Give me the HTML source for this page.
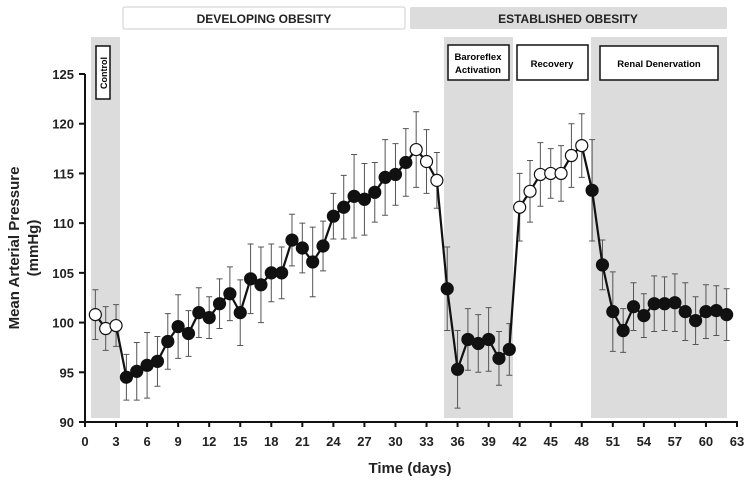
<!DOCTYPE html>
<html><head><meta charset="utf-8"><style>
body{margin:0;background:#fff;}
svg{display:block;font-family:"Liberation Sans",Arial,sans-serif;}
</style></head><body>
<svg id="chart" width="745" height="483"></svg>
<script>
const days=[1,2,3,4,5,6,7,8,9,10,11,12,13,14,15,16,17,18,19,20,21,22,23,24,25,26,27,28,29,30,31,32,33,34,35,36,37,38,39,40,41,42,43,44,45,46,47,48,49,50,51,52,53,54,55,56,57,58,59,60,61,62];
const meanMAP=[100.8,99.4,99.7,94.5,95.1,95.7,96.1,98.1,99.6,98.9,101,100.5,101.9,102.9,101,104.4,103.8,105,105,108.3,107.5,106.1,107.7,110.7,111.6,112.7,112.4,113.1,114.6,114.9,116.1,117.4,116.2,114.3,103.4,95.3,98.3,97.9,98.3,96.4,97.3,111.6,113.2,114.9,115,115,116.8,117.8,113.3,105.8,101.1,99.2,101.6,100.7,101.9,101.9,102,101.1,100.2,101.1,101.2,100.8];
const errMAP=[2.5,2.2,2.1,2.3,2.9,3.3,2.5,2.8,3.2,2.3,2.5,2.1,2.5,2.7,3.3,3.5,3.8,2.9,2.6,2.6,2.5,3.5,2.5,2.3,3.2,4.2,3.6,3,3.8,3.1,3.4,3.8,3.2,2.8,4.2,3.9,3.1,2.9,3.2,2.7,2.6,3.4,3.1,3.2,2.5,2.8,3.2,3.2,5.1,2.5,4,2.2,2.4,2.2,2.8,2.7,2.9,2.9,2.4,2.7,2.5,2.6];
const openDays=[1,2,3,32,33,34,42,43,44,45,46,47,48];
const xTicks=[0,3,6,9,12,15,18,21,24,27,30,33,36,39,42,45,48,51,54,57,60,63];
const yTicks=[90,95,100,105,110,115,120,125];
const NS="http://www.w3.org/2000/svg";
const svg=document.getElementById('chart');
const X=d=>85+d*(652/63);
const Y=v=>422-(v-90)*(348/35);
function el(t,a,p){const e=document.createElementNS(NS,t);for(const k in a)e.setAttribute(k,a[k]);(p||svg).appendChild(e);return e;}
function txt(x,y,s,a){const e=el('text',Object.assign({x:x,y:y},a));e.textContent=s;return e;}
// shaded regions
let r;
r=el('rect',{x:91,y:37,width:29,height:381,fill:'#dcdcdc'});
r=el('rect',{x:444,y:37,width:69,height:381,fill:'#dcdcdc'});
r=el('rect',{x:591,y:37,width:136,height:381,fill:'#dcdcdc'});
// banners
r=el('rect',{x:123,y:7,width:282,height:22,fill:'#fff',stroke:'#ddd','stroke-width':1.5,rx:2});
r=txt(264,23,'DEVELOPING OBESITY',{'text-anchor':'middle','font-size':12,'font-weight':'bold',fill:'#222'});
r=el('rect',{x:410,y:7,width:317,height:22,fill:'#dcdcdc',rx:2});
r=txt(568,23,'ESTABLISHED OBESITY',{'text-anchor':'middle','font-size':12,'font-weight':'bold',fill:'#222'});
// phase label boxes
r=el('rect',{x:96,y:46,width:14,height:53,fill:'#fff',stroke:'#111','stroke-width':1.5});
r=txt(0,0,'Control',{transform:'translate(107,73) rotate(-90)','text-anchor':'middle','font-size':9,'font-weight':'bold'});
r=el('rect',{x:448,y:45,width:61,height:35,fill:'#fff',stroke:'#111','stroke-width':1.5});
r=txt(478,60,'Baroreflex',{'text-anchor':'middle','font-size':9.5,'font-weight':'bold'});
r=txt(478,73,'Activation',{'text-anchor':'middle','font-size':9.5,'font-weight':'bold'});
r=el('rect',{x:517,y:45,width:71,height:35,fill:'#fff',stroke:'#111','stroke-width':1.5});
r=txt(552,67,'Recovery',{'text-anchor':'middle','font-size':9.5,'font-weight':'bold'});
r=el('rect',{x:600,y:46,width:118,height:34,fill:'#fff',stroke:'#111','stroke-width':1.5});
r=txt(659,67,'Renal Denervation',{'text-anchor':'middle','font-size':9.5,'font-weight':'bold'});
// axes
r=el('line',{x1:85,y1:74,x2:85,y2:423,stroke:'#111','stroke-width':2});
r=el('line',{x1:84,y1:422,x2:738,y2:422,stroke:'#111','stroke-width':2});
yTicks.forEach(v=>{
  const t=el('line',{x1:79,y1:Y(v),x2:85,y2:Y(v),stroke:'#111','stroke-width':2});
  
  const l=txt(74,Y(v)+5,String(v),{'text-anchor':'end','font-size':13,'font-weight':'bold',fill:'#222'});
  
});
xTicks.forEach(d=>{
  const t=el('line',{x1:X(d),y1:422,x2:X(d),y2:427,stroke:'#111','stroke-width':2});
  
  const l=txt(X(d),446,String(d),{'text-anchor':'middle','font-size':13,'font-weight':'bold',fill:'#222'});
  
});
r=txt(410,473,'Time (days)',{'text-anchor':'middle','font-size':15,'font-weight':'bold',fill:'#222'});
r=txt(0,0,'Mean Arterial Pressure',{transform:'translate(19,248) rotate(-90)','text-anchor':'middle','font-size':15,'font-weight':'bold',fill:'#222'});
r=txt(0,0,'(mmHg)',{transform:'translate(38,248) rotate(-90)','text-anchor':'middle','font-size':15,'font-weight':'bold',fill:'#222'});
// error bars
days.forEach((d,i)=>{
  const x=X(d),y1=Y(meanMAP[i]-errMAP[i]),y2=Y(meanMAP[i]+errMAP[i]);
  const g=el('path',{d:`M${x},${y1}V${y2}M${x-3},${y1}H${x+3}M${x-3},${y2}H${x+3}`,stroke:'#555','stroke-width':1,fill:'none'});
  
});
// line
r=el('polyline',{points:days.map((d,i)=>X(d)+','+Y(meanMAP[i])).join(' '),fill:'none',stroke:'#111','stroke-width':2.2});

// markers
days.forEach((d,i)=>{
  const open=openDays.includes(d);
  const c=el('circle',{cx:X(d),cy:Y(meanMAP[i]),r:6,fill:open?'#fff':'#111',stroke:'#111','stroke-width':1.2});
  
});
</script>
</body></html>
